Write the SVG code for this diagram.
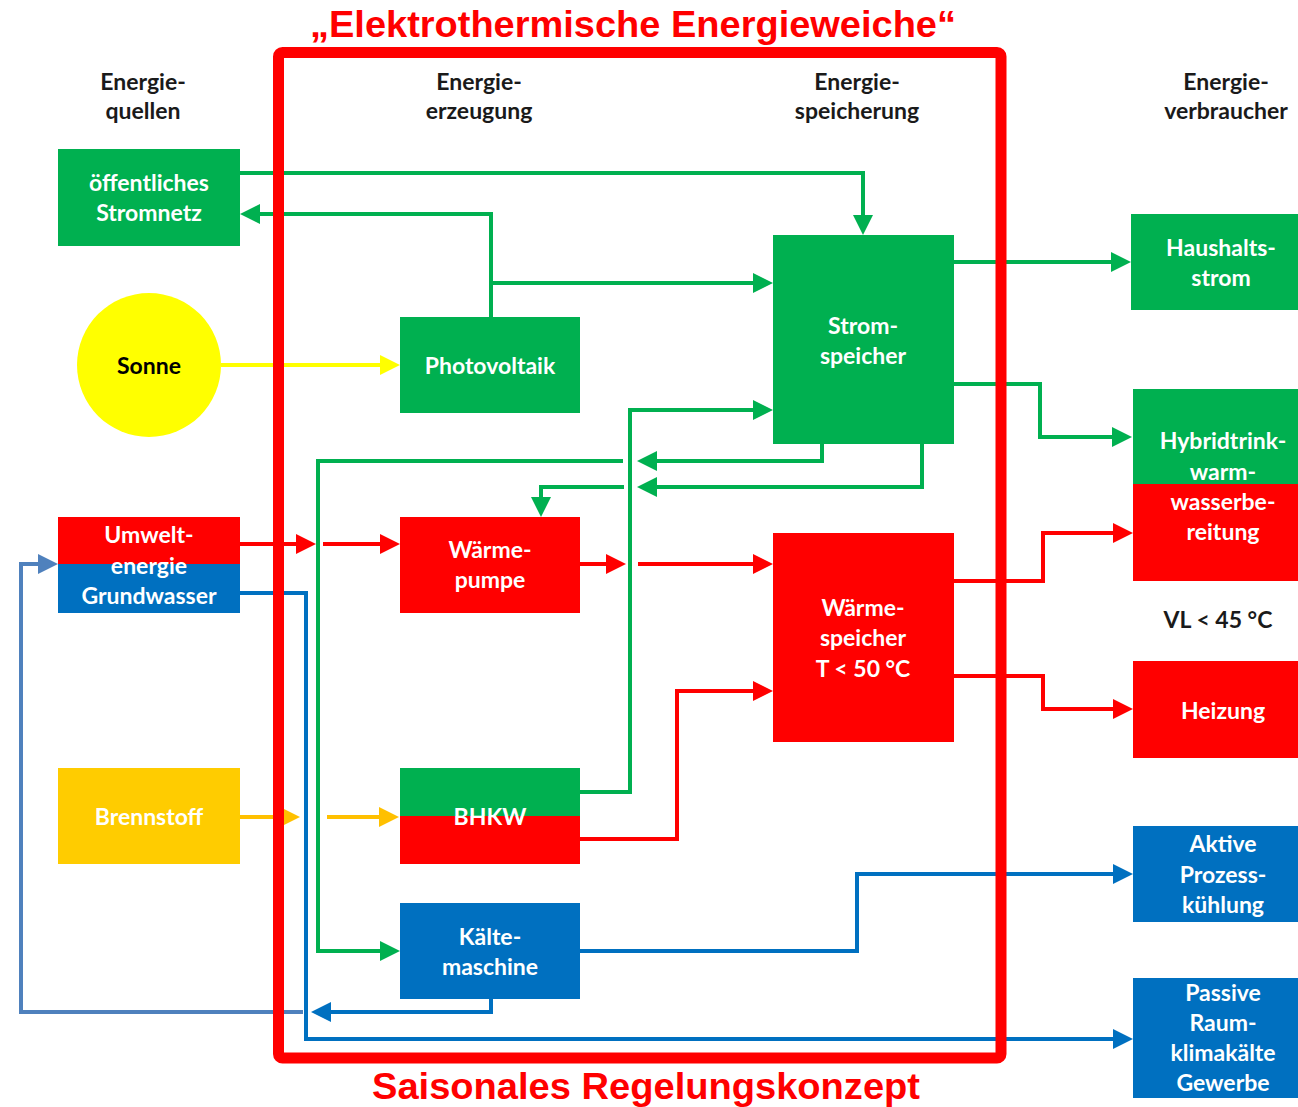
<svg xmlns="http://www.w3.org/2000/svg" width="1298" height="1107" viewBox="0 0 1298 1107">
<style>
.lbl{font-family:Lato,"Open Sans","DejaVu Sans",sans-serif;font-weight:bold;font-size:23px;fill:#fff;text-anchor:middle}
.hdr{font-family:Lato,"Open Sans","DejaVu Sans",sans-serif;font-weight:bold;font-size:23px;fill:#1a1a1a;text-anchor:middle}
.dark{fill:#000}
.ttl{font-family:"Liberation Sans",Arial,sans-serif;font-weight:bold;font-size:37px;fill:#FF0000;text-anchor:middle}
.c{fill:none;stroke-width:4;stroke-linejoin:miter}
.g{stroke:#00B050}.r{stroke:#FF0000}.b{stroke:#0070C0}.y{stroke:#FFFF00}.o{stroke:#FFC000}.lb{stroke:#4F81BD}
.fg{fill:#00B050}.fr{fill:#FF0000}.fb{fill:#0070C0}.fy{fill:#FFFF00}.fo{fill:#FFCC00}
</style>
<defs>
<marker id="mg" viewBox="0 0 20 20" markerWidth="20" markerHeight="20" refX="10" refY="10" markerUnits="userSpaceOnUse" orient="auto"><path d="M0,0 L20,10 L0,20 z" fill="#00B050"/></marker>
<marker id="mr" viewBox="0 0 20 20" markerWidth="20" markerHeight="20" refX="10" refY="10" markerUnits="userSpaceOnUse" orient="auto"><path d="M0,0 L20,10 L0,20 z" fill="#FF0000"/></marker>
<marker id="mb" viewBox="0 0 20 20" markerWidth="20" markerHeight="20" refX="10" refY="10" markerUnits="userSpaceOnUse" orient="auto"><path d="M0,0 L20,10 L0,20 z" fill="#0070C0"/></marker>
<marker id="my" viewBox="0 0 20 20" markerWidth="20" markerHeight="20" refX="10" refY="10" markerUnits="userSpaceOnUse" orient="auto"><path d="M0,0 L20,10 L0,20 z" fill="#FFFF00"/></marker>
<marker id="mo" viewBox="0 0 20 20" markerWidth="20" markerHeight="20" refX="10" refY="10" markerUnits="userSpaceOnUse" orient="auto"><path d="M0,0 L20,10 L0,20 z" fill="#FFC000"/></marker>
<marker id="mlb" viewBox="0 0 20 20" markerWidth="20" markerHeight="20" refX="10" refY="10" markerUnits="userSpaceOnUse" orient="auto"><path d="M0,0 L20,10 L0,20 z" fill="#4F81BD"/></marker>
</defs>
<rect width="1298" height="1107" fill="#fff"/>

<g id="connectors">
<path class="c g" d="M240,173 H863 V225" marker-end="url(#mg)"/>
<path class="c g" d="M491,317 V214 H250" marker-end="url(#mg)"/>
<path class="c g" d="M491,283 H763" marker-end="url(#mg)"/>
<path class="c g" d="M580,792 H630 V410 H763" marker-end="url(#mg)"/>
<path class="c g" d="M822,444 V461 H647" marker-end="url(#mg)"/>
<path class="c g" d="M623,461 H318 V951 H390" marker-end="url(#mg)"/>
<path class="c g" d="M922,444 V487 H647" marker-end="url(#mg)"/>
<path class="c g" d="M624,487 H541 V507" marker-end="url(#mg)"/>
<path class="c g" d="M954,262 H1121" marker-end="url(#mg)"/>
<path class="c g" d="M954,384 H1040 V437 H1122" marker-end="url(#mg)"/>
<path class="c r" d="M240,544 H306" marker-end="url(#mr)"/>
<path class="c r" d="M323,544 H390" marker-end="url(#mr)"/>
<path class="c r" d="M580,564 H616" marker-end="url(#mr)"/>
<path class="c r" d="M638,564 H763" marker-end="url(#mr)"/>
<path class="c r" d="M580,839 H677 V691 H763" marker-end="url(#mr)"/>
<path class="c r" d="M954,581 H1043 V533 H1123" marker-end="url(#mr)"/>
<path class="c r" d="M954,676 H1043 V709 H1123" marker-end="url(#mr)"/>
<path class="c y" d="M221,365 H390" marker-end="url(#my)"/>
<path class="c o" d="M240,817 H290" marker-end="url(#mo)"/>
<path class="c o" d="M327,817 H389" marker-end="url(#mo)"/>
<path class="c b" d="M580,951 H857 V874 H1123" marker-end="url(#mb)"/>
<path class="c b" d="M240,593 H306 V1039 H1123" marker-end="url(#mb)"/>
<path class="c b" d="M491,999 V1012 H321" marker-end="url(#mb)"/>
<path class="c lb" d="M303,1012 H21 V564 H48" marker-end="url(#mlb)"/>
</g>

<g id="hdr-quellen"><text class="hdr" x="143" y="90">Energie-</text><text class="hdr" x="143" y="119">quellen</text></g>
<g id="hdr-erzeugung"><text class="hdr" x="479" y="90">Energie-</text><text class="hdr" x="479" y="119">erzeugung</text></g>
<g id="hdr-speicherung"><text class="hdr" x="857" y="90">Energie-</text><text class="hdr" x="857" y="119">speicherung</text></g>
<g id="hdr-verbraucher"><text class="hdr" x="1226" y="90">Energie-</text><text class="hdr" x="1226" y="119">verbraucher</text></g>

<g id="stromnetz"><rect class="fg" x="58" y="149" width="182" height="97"/><text class="lbl" x="149" y="191">öffentliches</text><text class="lbl" x="149" y="221">Stromnetz</text></g>
<g id="sonne"><ellipse class="fy" cx="149" cy="365" rx="72" ry="72"/><text class="lbl dark" x="149" y="374">Sonne</text></g>
<g id="umwelt"><rect class="fr" x="58" y="517" width="182" height="48"/><rect class="fb" x="58" y="564" width="182" height="49"/><text class="lbl" x="149" y="543">Umwelt-</text><text class="lbl" x="149" y="574">energie</text><text class="lbl" x="149" y="604">Grundwasser</text></g>
<g id="brennstoff"><rect class="fo" x="58" y="768" width="182" height="96"/><text class="lbl" x="149" y="825">Brennstoff</text></g>

<g id="photovoltaik"><rect class="fg" x="400" y="317" width="180" height="96"/><text class="lbl" x="490" y="374">Photovoltaik</text></g>
<g id="waermepumpe"><rect class="fr" x="400" y="517" width="180" height="96"/><text class="lbl" x="490" y="558">Wärme-</text><text class="lbl" x="490" y="588">pumpe</text></g>
<g id="bhkw"><rect class="fg" x="400" y="768" width="180" height="49"/><rect class="fr" x="400" y="816" width="180" height="48"/><text class="lbl" x="490" y="825">BHKW</text></g>
<g id="kaeltemaschine"><rect class="fb" x="400" y="903" width="180" height="96"/><text class="lbl" x="490" y="945">Kälte-</text><text class="lbl" x="490" y="975">maschine</text></g>

<g id="stromspeicher"><rect class="fg" x="773" y="235" width="181" height="209"/><text class="lbl" x="863" y="334">Strom-</text><text class="lbl" x="863" y="364">speicher</text></g>
<g id="waermespeicher"><rect class="fr" x="773" y="533" width="181" height="209"/><text class="lbl" x="863" y="616">Wärme-</text><text class="lbl" x="863" y="646">speicher</text><text class="lbl" x="863" y="677">T &lt; 50 °C</text></g>

<g id="haushaltsstrom"><rect class="fg" x="1131" y="214" width="180" height="96"/><text class="lbl" x="1221" y="256">Haushalts-</text><text class="lbl" x="1221" y="286">strom</text></g>
<g id="hybrid"><rect class="fg" x="1133" y="389" width="180" height="96"/><rect class="fr" x="1133" y="484" width="180" height="97"/><text class="lbl" x="1223" y="449">Hybridtrink-</text><text class="lbl" x="1223" y="480">warm-</text><text class="lbl" x="1223" y="510">wasserbe-</text><text class="lbl" x="1223" y="540">reitung</text></g>
<g id="vl"><text class="hdr" x="1218" y="628">VL &lt; 45 °C</text></g>
<g id="heizung"><rect class="fr" x="1133" y="661" width="180" height="97"/><text class="lbl" x="1223" y="719">Heizung</text></g>
<g id="aktive"><rect class="fb" x="1133" y="826" width="180" height="96"/><text class="lbl" x="1223" y="852">Aktive</text><text class="lbl" x="1223" y="883">Prozess-</text><text class="lbl" x="1223" y="913">kühlung</text></g>
<g id="passive"><rect class="fb" x="1133" y="978" width="180" height="120"/><text class="lbl" x="1223" y="1001">Passive</text><text class="lbl" x="1223" y="1031">Raum-</text><text class="lbl" x="1223" y="1061">klimakälte</text><text class="lbl" x="1223" y="1091">Gewerbe</text></g>

<g id="frame"><rect x="278.5" y="52.5" width="722.5" height="1005.5" rx="4" fill="none" stroke="#FF0000" stroke-width="11"/></g>
<g id="titles">
<text class="ttl" x="633" y="37" textLength="646" lengthAdjust="spacingAndGlyphs">„Elektrothermische Energieweiche“</text>
<text class="ttl" x="646" y="1099" textLength="548" lengthAdjust="spacingAndGlyphs">Saisonales Regelungskonzept</text>
</g>
</svg>
